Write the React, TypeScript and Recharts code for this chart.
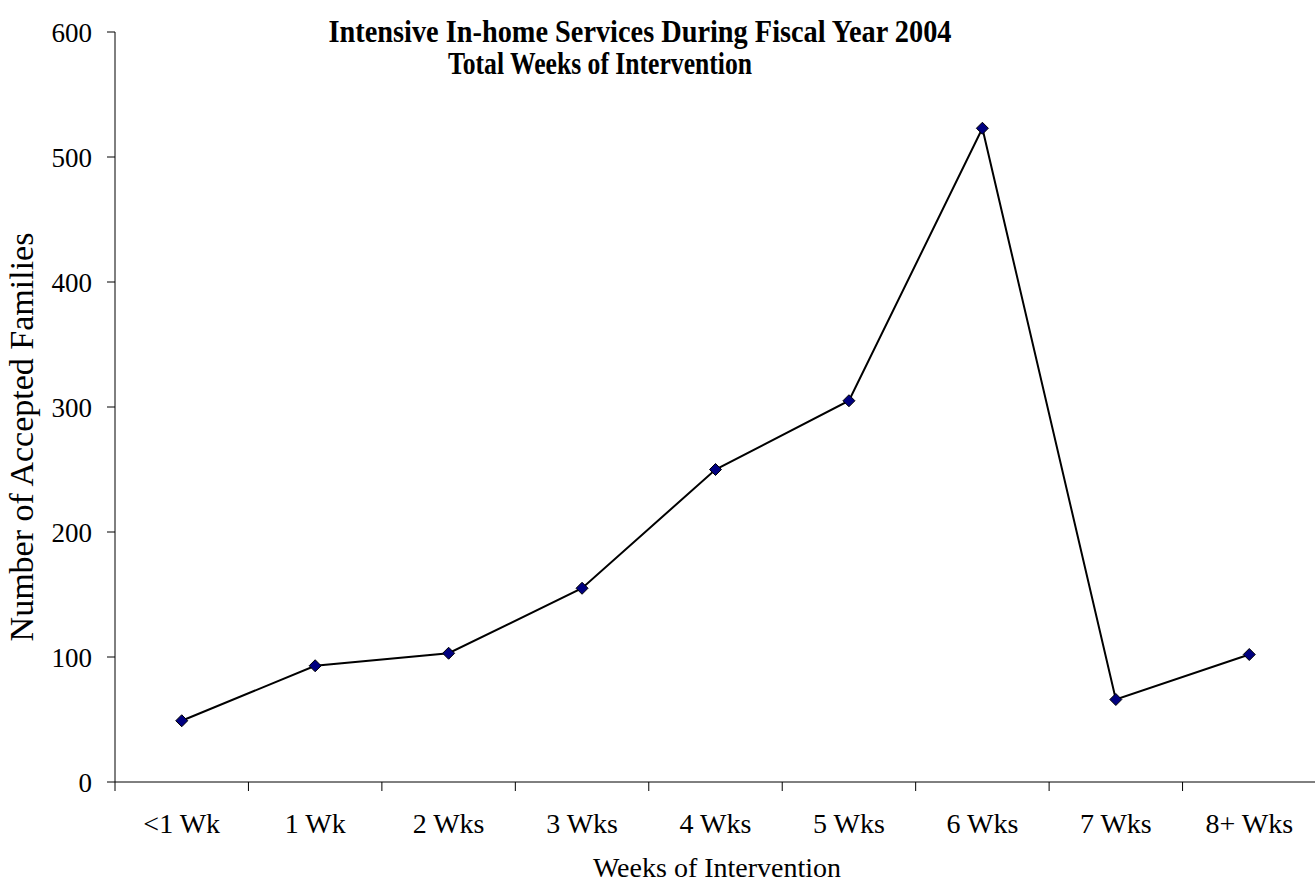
import React from 'react';
import { LineChart, Line, XAxis, YAxis } from 'recharts';

// ─── data ─────────────────────────────────────────────────────────────────────

const CATEGORIES = ['<1 Wk', '1 Wk', '2 Wks', '3 Wks', '4 Wks', '5 Wks', '6 Wks', '7 Wks', '8+ Wks'];
const FAMILIES = [49, 93, 103, 155, 250, 305, 523, 66, 102];
const Y_TICKS = [0, 100, 200, 300, 400, 500, 600];

// category i sits in the middle of slot [i, i+1]
const X_TICKS: number[] = [];
for (let i = 0; i <= CATEGORIES.length; i++) {
  X_TICKS.push(i);
  if (i < CATEGORIES.length) X_TICKS.push(i + 0.5);
}

const chartData = CATEGORIES.map((name, i) => ({ x: i + 0.5, name, value: FAMILIES[i] }));

// ─── styles ───────────────────────────────────────────────────────────────────

const SERIF = '"Liberation Serif", "Times New Roman", serif';
const W = 1315;
const H = 883;

function XTick(props: any) {
  const { x, y, payload } = props;
  const v = payload.value as number;
  if (Number.isInteger(v)) {
    return <line x1={x} x2={x} y1={y} y2={y + 9} stroke="#000" strokeWidth={1} />;
  }
  return (
    <text x={x} y={y + 51} textAnchor="middle" fontSize={28} fontFamily={SERIF} fill="#000">
      {CATEGORIES[Math.floor(v)]}
    </text>
  );
}

function Diamond(props: any) {
  const { cx, cy } = props;
  if (cx == null || cy == null) return null;
  const r = 6;
  return (
    <path
      d={`M${cx},${cy - r}L${cx + r},${cy}L${cx},${cy + r}L${cx - r},${cy}Z`}
      fill="#000080"
      stroke="#000"
      strokeWidth={1}
    />
  );
}

export default function App() {
  return (
    <div style={{ position: 'absolute', left: 0, top: 0, width: W, height: H, background: '#fff', overflow: 'hidden' }}>
      <LineChart
        width={W}
        height={H}
        data={chartData}
        margin={{ top: 32, right: -1, left: 0, bottom: 0 }}
      >
        <XAxis
          type="number"
          dataKey="x"
          domain={[0, CATEGORIES.length]}
          ticks={X_TICKS}
          interval={0}
          allowDecimals
          height={101}
          tickSize={0}
          tickMargin={0}
          tickLine={false}
          axisLine={{ stroke: '#000', strokeWidth: 1 }}
          tick={XTick}
        />
        <YAxis
          type="number"
          domain={[0, 600]}
          ticks={Y_TICKS}
          interval={0}
          width={115}
          tickSize={8}
          tickMargin={15}
          axisLine={{ stroke: '#000', strokeWidth: 1 }}
          tickLine={{ stroke: '#000', strokeWidth: 1 }}
          tick={{ fontSize: 27, fill: '#000', fontFamily: SERIF }}
        />
        <Line
          type="linear"
          dataKey="value"
          stroke="#000"
          strokeWidth={2}
          dot={<Diamond />}
          activeDot={false}
          isAnimationActive={false}
        />
      </LineChart>
      <svg
        width={W}
        height={H}
        style={{ position: 'absolute', left: 0, top: 0, pointerEvents: 'none' }}
      >
        <text x={640} y={42} textAnchor="middle" fontFamily={SERIF} fontWeight="bold" fontSize={31}
          textLength={623} lengthAdjust="spacingAndGlyphs" fill="#000">
          Intensive In-home Services During Fiscal Year 2004
        </text>
        <text x={600} y={74} textAnchor="middle" fontFamily={SERIF} fontWeight="bold" fontSize={31}
          textLength={304} lengthAdjust="spacingAndGlyphs" fill="#000">
          Total Weeks of Intervention
        </text>
        <text x={717} y={877} textAnchor="middle" fontFamily={SERIF} fontSize={28} fill="#000">
          Weeks of Intervention
        </text>
        <text x={33} y={437} transform="rotate(-90 33 437)" textAnchor="middle" fontFamily={SERIF} fontSize={34} fill="#000">
          Number of Accepted Families
        </text>
      </svg>
    </div>
  );
}
